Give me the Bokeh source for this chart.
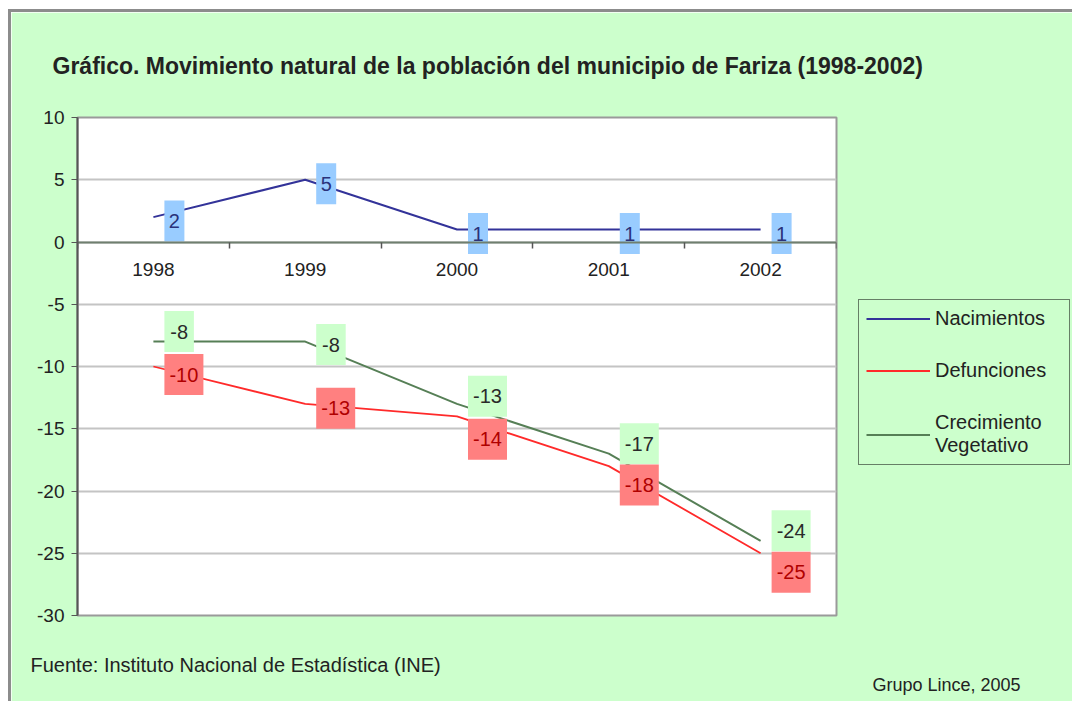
from bokeh.plotting import figure
from bokeh.models import (Range1d, FixedTicker, LinearAxis, Legend, LegendItem,
                          Title, Grid, ColumnDataSource)
from bokeh.embed import file_html
from bokeh.resources import INLINE
from bokeh.core.properties import value

# ---------------- data ----------------
years = ["1998", "1999", "2000", "2001", "2002"]
nacimientos = [2, 5, 1, 1, 1]
defunciones = [-10, -13, -14, -18, -25]
crecimiento = [-8, -8, -13, -17, -24]
y_ticks = [-30, -25, -20, -15, -10, -5, 0, 5, 10]

# label box vertical shifts in px (positive = downward), style only
nac_dy = [4, 4, 4, 4, 4]
def_dy = [8, 4.5, 23, 19, 19]
cre_dy = [-10, 3, -7.5, -10, -10]

FONT = "Liberation Sans"
BG = "#ccffcc"
FW, FH = 759, 498
BORDER = 3
MX, MY = 8, 9

xs = list(range(len(years)))
x_lo, x_hi = -0.5, len(years) - 0.5
y_lo, y_hi = y_ticks[0], y_ticks[-1]
pxx = FW / (x_hi - x_lo)
pxy = FH / (y_hi - y_lo)

p = figure(frame_width=FW, frame_height=FH,
           min_border_left=77 - BORDER - MX, min_border_top=117 - BORDER - MY,
           min_border_right=235, min_border_bottom=86,
           x_range=Range1d(x_lo, x_hi), y_range=Range1d(y_lo, y_hi),
           x_axis_location=None, y_axis_location=None,
           output_backend="svg", toolbar_location=None,
           background_fill_color="white", border_fill_color=BG)
p.styles = {"border-left": f"{BORDER}px solid #8c8c8c",
            "border-top": f"{BORDER}px solid #8c8c8c",
            "margin-left": f"{MX}px", "margin-top": f"{MY}px"}
p.outline_line_color = "#9a9a9a"
p.outline_line_width = 2
p.xgrid.visible = False
p.ygrid.visible = False

# y axis
yax = LinearAxis(ticker=FixedTicker(ticks=y_ticks),
                 major_label_overrides={t: str(t) for t in y_ticks})
yax.major_label_text_font = FONT
yax.major_label_text_font_size = "19px"
yax.major_label_text_color = "#222222"
yax.axis_line_color = "#555555"
yax.axis_line_width = 2
yax.major_tick_line_color = "#555555"
yax.major_tick_in = 0
yax.major_tick_out = 6
yax.minor_tick_line_color = None
yax.major_label_standoff = 7
p.add_layout(yax, "left")

grid = Grid(dimension=1, ticker=FixedTicker(ticks=y_ticks),
            grid_line_color="#c4c4c4", grid_line_width=2)
p.add_layout(grid)

# x axis crossing at y = 0: labels at category centres, ticks at boundaries
xl = LinearAxis(ticker=FixedTicker(ticks=xs,
                                   minor_ticks=[x - 0.5 for x in xs] + [xs[-1] + 0.5]),
                fixed_location=0,
                major_label_overrides={x: y for x, y in zip(xs, years)})
xl.axis_line_color = "#6f7f6f"
xl.axis_line_width = 2
xl.major_tick_line_color = None
xl.major_tick_in = 0
xl.major_tick_out = 0
xl.minor_tick_line_color = "#555555"
xl.minor_tick_line_width = 1.5
xl.minor_tick_in = 0
xl.minor_tick_out = 6
xl.major_label_text_font = FONT
xl.major_label_text_font_size = "19px"
xl.major_label_text_color = "#222222"
xl.major_label_standoff = 15
p.add_layout(xl, "below")

# lines
r_nac = p.line(xs, nacimientos, line_color="#333399", line_width=2)
r_def = p.line(xs, defunciones, line_color="#ff2a2a", line_width=1.8)
r_cre = p.line(xs, crecimiento, line_color="#567f56", line_width=2)

# data labels (Excel-style boxes to the right of each point)
def labels(vals, dys, fill, tcolor):
    txt = [str(v) for v in vals]
    w = [10.5 + 9.5 * len(t) for t in txt]
    left = [x + 11 / pxx for x in xs]
    right = [l + ww / pxx for l, ww in zip(left, w)]
    cy = [v - d / pxy for v, d in zip(vals, dys)]
    src = ColumnDataSource(dict(left=left, right=right,
                                top=[c + 20.5 / pxy for c in cy],
                                bottom=[c - 20.5 / pxy for c in cy],
                                cx=[(l + r) / 2 for l, r in zip(left, right)],
                                cy=cy, txt=txt))
    p.quad(left="left", right="right", top="top", bottom="bottom", source=src,
           fill_color=fill, line_color=None)
    p.text(x="cx", y="cy", text="txt", source=src, text_align="center",
           text_baseline="middle", text_font=value(FONT),
           text_font_size="20px", text_color=tcolor)

labels(crecimiento, cre_dy, "#ccffcc", "#2a2a2a")
labels(defunciones, def_dy, "#ff8080", "#b00000")
labels(nacimientos, nac_dy, "#99ccff", "#2a327a")

# legend
legend = Legend(items=[LegendItem(label="Nacimientos", renderers=[r_nac]),
                       LegendItem(label="Defunciones", renderers=[r_def]),
                       LegendItem(label="Crecimiento\nVegetativo", renderers=[r_cre])],
                location=(22, 150), orientation="vertical")
legend.border_line_color = "black"
legend.border_line_width = 1.5
legend.background_fill_alpha = 0
legend.label_text_font = FONT
legend.label_text_font_size = "20px"
legend.label_text_color = "#222222"
legend.label_text_line_height = 1.15
legend.glyph_width = 64
legend.glyph_height = 23
legend.label_height = 23
legend.label_standoff = 5
legend.label_width = 127
legend.padding = 7
legend.spacing = 29
legend.margin = 0
p.add_layout(legend, "right")

# title and footers
p.title.text = "Gráfico. Movimiento natural de la población del municipio de Fariza (1998-2002)"
p.title.align = "left"
p.title.offset = -25
p.title.text_font = FONT
p.title.text_font_size = "23px"
p.title.text_font_style = "bold"
p.title.text_color = "#222222"
p.title.standoff = 77

p.add_layout(Title(text="\n\nFuente: Instituto Nacional de Estadística (INE)", align="left",
                   offset=-47, text_font=FONT, text_font_size="20px",
                   text_line_height=0.83,
                   text_font_style="normal", text_color="#222222", standoff=0), "below")
p.add_layout(Title(text="Grupo Lince, 2005", align="left", offset=795,
                   text_font=FONT, text_font_size="18px", text_font_style="normal",
                   text_color="#222222", standoff=-8), "below")

open("out.html", "w").write(file_html(p, INLINE))
